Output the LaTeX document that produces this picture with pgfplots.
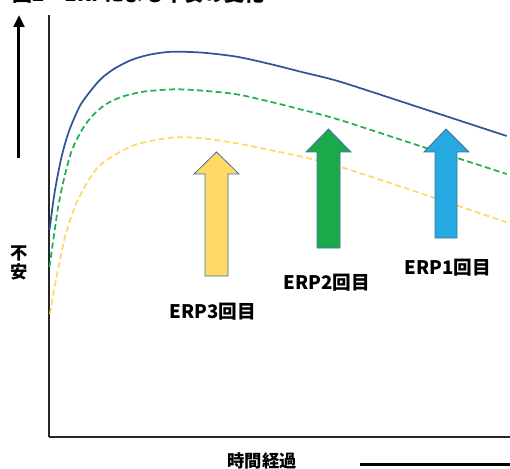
\documentclass[border=0pt]{standalone}
\usepackage{pgfplots}
\pgfplotsset{compat=1.18}
\usepackage{fontspec}
\setmainfont{Noto Sans CJK JP}
\usetikzlibrary{arrows.meta}
\definecolor{cblue}{HTML}{2F5597}
\definecolor{cgreen}{HTML}{1DB154}
\definecolor{cyellow}{HTML}{FFD966}
\definecolor{agreen}{HTML}{1AAA4C}
\definecolor{ablue}{HTML}{26A9E0}
\definecolor{aline}{HTML}{41719C}
\definecolor{axc}{HTML}{262626}
\begin{document}
\begin{tikzpicture}
\begin{axis}[
  scale only axis,
  width=345.75pt, height=316.5pt,
  xmin=49, xmax=510, ymin=31, ymax=453,
  axis x line=bottom, axis y line=left,
  axis line style={-, line width=1.5pt, color=axc},
  xtick=\empty, ytick=\empty,
  clip=false,
]
% blue solid curve
\addplot[color=cblue, line width=1.3pt, smooth] coordinates {
(49.5,238) (54.7,276) (61.3,310) (68,334) (74.7,351) (81.3,364.5) (91.3,378)
(101.3,389.5) (114.7,399.5) (131.3,408) (148,413) (164.7,415.7) (178,416.3)
(203,415.3) (236.7,411.3) (270,404) (303,395.7) (340,386.3) (418,361) (506.7,332)};
% green dashed curve
\addplot[color=cgreen, line width=1.3pt, smooth, dash pattern=on 4.5pt off 2.5pt] coordinates {
(49.5,201) (53,226) (58,260) (63,285) (71.3,316) (81.3,337) (91.3,351)
(104.7,363) (121.3,371) (141.3,376) (161.3,378) (178,378.7) (203,377.3)
(236.7,373.7) (270,366.3) (303,358) (340,348) (420,322) (506.7,294)};
% yellow dashed curve
\addplot[color=cyellow, line width=1.3pt, smooth, dash pattern=on 4.5pt off 2.5pt] coordinates {
(50,154) (54,178) (58,198) (64.7,230) (74.7,261) (84.7,281) (98,301)
(114.7,313) (134.7,323) (158,328.5) (178,330.7) (203,329.7) (236.7,324.7)
(270,318) (303,311) (341.7,300.7) (420,275) (506.7,245.7)};
% block arrows
\filldraw[fill=cyellow, draw=aline, line width=0.6pt]
  (axis cs:205,192) -- (axis cs:205,294) -- (axis cs:194,294) -- (axis cs:216.5,316)
  -- (axis cs:239,294) -- (axis cs:228,294) -- (axis cs:228,192) -- cycle;
\filldraw[fill=agreen, draw=aline, line width=0.6pt]
  (axis cs:317,220) -- (axis cs:317,316) -- (axis cs:306,316) -- (axis cs:328.5,339)
  -- (axis cs:351,316) -- (axis cs:340,316) -- (axis cs:340,220) -- cycle;
\filldraw[fill=ablue, draw=aline, line width=0.6pt]
  (axis cs:435,230) -- (axis cs:435,316) -- (axis cs:424,316) -- (axis cs:446,339)
  -- (axis cs:469,316) -- (axis cs:457,316) -- (axis cs:457,230) -- cycle;
% labels
\node[font=\fontsize{14pt}{16pt}\selectfont\bfseries, inner sep=0pt] at (axis cs:213,156) {ERP3回目};
\node[font=\fontsize{14pt}{16pt}\selectfont\bfseries, inner sep=0pt] at (axis cs:327,185) {ERP2回目};
\node[font=\fontsize{14pt}{16pt}\selectfont\bfseries, inner sep=0pt] at (axis cs:448,200) {ERP1回目};
\node[font=\fontsize{13pt}{14.5pt}\selectfont\bfseries, inner sep=0pt, align=center] at (axis cs:19,205) {不\\安};
\node[font=\fontsize{13pt}{15pt}\selectfont\bfseries, inner sep=0pt, anchor=north] at (axis cs:262,16) {時間経過};
\node[font=\fontsize{15pt}{17pt}\selectfont\bfseries, inner sep=0pt, anchor=base west] at (axis cs:12,466) {図2　ERPによる不安の変化};
% left arrow and bottom line
\draw[line width=2.25pt, color=black, -{Triangle[length=9pt,width=8pt]}] (axis cs:19,310) -- (axis cs:19,453);
\draw[line width=2.25pt, color=black] (axis cs:360,4) -- (axis cs:515,4);
\coordinate (BL) at (axis cs:0,0);
\coordinate (TR) at (axis cs:510,468);
\end{axis}
\pgfresetboundingbox
\useasboundingbox (BL) rectangle (TR);
\end{tikzpicture}
\end{document}
